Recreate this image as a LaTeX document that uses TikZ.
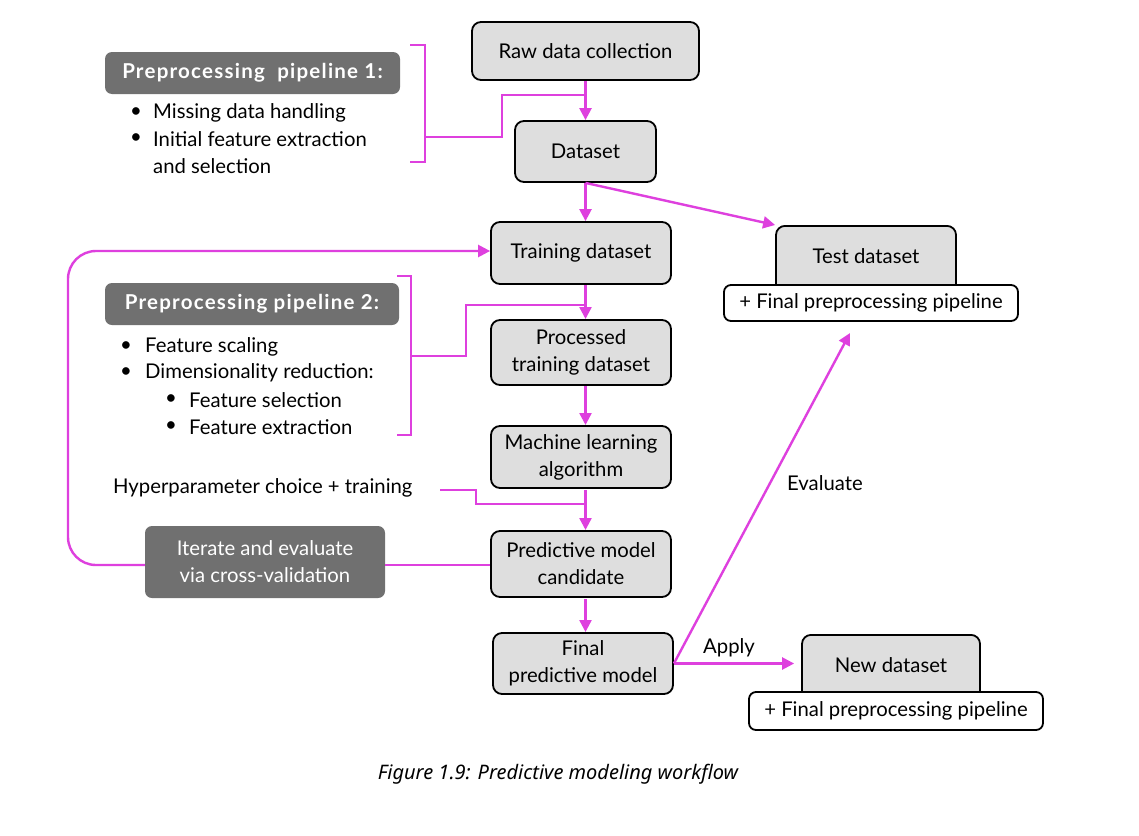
\documentclass[tikz,border=0pt]{standalone}
\usepackage{fontspec}
\setmainfont{Lato}
\newfontfamily\capfont{Noto Sans}
\usetikzlibrary{arrows.meta}
\definecolor{mag}{RGB}{222,64,222}
\definecolor{boxgray}{RGB}{222,222,222}
\definecolor{pipegray}{RGB}{112,112,112}
\newcommand{\ptitle}{\fontsize{20.5}{26}\selectfont\bfseries\addfontfeatures{LetterSpace=6}}
\begin{document}
\begin{tikzpicture}[x=1pt,y=-1pt,
 every node/.style={font=\fontsize{20.3}{27}\selectfont},
 procbox/.style={draw=black, line width=1.8pt, rounded corners=9pt, fill=boxgray, align=center, inner sep=0pt},
 pipebox/.style={fill=pipegray, rounded corners=7pt, text=white, align=center, inner sep=0pt},
 whitebox/.style={draw=black, line width=1.8pt, rounded corners=7pt, fill=white, inner sep=0pt},
 conn/.style={draw=mag, line width=2.4pt},
 arr/.style={conn, -{Triangle[length=12pt,width=12pt]}},
 txt/.style={anchor=west, inner sep=0pt},
]
\useasboundingbox[fill=white] (0,0) rectangle (1139,835);

% main column
\node[procbox, minimum width=227, minimum height=58] (raw) at (585.5,51) {Raw data collection};
\node[procbox, minimum width=141, minimum height=61] (dataset) at (585.5,151.5) {Dataset};
\node[procbox, minimum width=180, minimum height=62] (train) at (581,253) {Training dataset};
\node[procbox, minimum width=180, minimum height=65] (proc) at (581,352.5) {Processed\\training dataset};
\node[procbox, minimum width=180, minimum height=62] (ml) at (581,457) {Machine learning\\algorithm};
\node[procbox, minimum width=180, minimum height=66] (pmc) at (581,564) {Predictive model\\candidate};
\node[procbox, minimum width=180, minimum height=61] (final) at (583,663.5) {Final\\predictive model};

% test dataset
\node[procbox, minimum width=180, minimum height=72, anchor=north] (testg) at (866,225) {};
\node at (866,256) (testt) {Test dataset};
\node[whitebox, minimum width=294, minimum height=36] (testw) at (871,303) {+ Final preprocessing pipeline};

% new dataset
\node[procbox, minimum width=178, minimum height=70, anchor=north] (newg) at (891,634) {};
\node at (891,665) (newt) {New dataset};
\node[whitebox, minimum width=294, minimum height=38] (neww) at (896,711) {+ Final preprocessing pipeline};

% pipeline 1
\node[pipebox, minimum width=295, minimum height=42, font=\ptitle] (p1) at (252.5,73) {Preprocessing\ \ pipeline 1:};
\node[txt] (p1b1) at (130,113) {•};
\node[txt] (p1t1) at (153,113) {Missing data handling};
\node[txt] (p1b2) at (130,139) {•};
\node[txt] (p1t2) at (153,139) {Initial feature extraction};
\node[txt] (p1t3) at (153,166) {and selection};

% pipeline 2
\node[pipebox, minimum width=294, minimum height=42, font=\ptitle] (p2) at (252,304) {Preprocessing pipeline 2:};
\node[txt] (p2b1) at (120,347) {•};
\node[txt] (p2t1) at (145,347) {Feature scaling};
\node[txt] (p2b2) at (120,373) {•};
\node[txt] (p2t2) at (145,373) {Dimensionality reduction:};
\node[txt] (p2b3) at (165,400) {•};
\node[txt] (p2t3) at (189,400) {Feature selection};
\node[txt] (p2b4) at (165,427) {•};
\node[txt] (p2t4) at (189,427) {Feature extraction};

% hyperparameter / iterate
\node[txt] (hyp) at (113,488) {Hyperparameter choice + training};
\node[pipebox, minimum width=240, minimum height=72] (iter) at (265,562) {Iterate and evaluate\\via cross-validation};

% coordinates
\coordinate (j1) at (585.5,95);
\coordinate (j2) at (585.5,305);
\coordinate (j3) at (585.5,504);
\coordinate (evend) at (850,333);

% brackets
\draw[conn] (410,45) -- (425,45) -- (425,162) -- (410,162);
\draw[conn] (425,137) -- (502,137) -- (502,95) -- (j1);
\draw[conn] (397,276) -- (411,276) -- (411,435) -- (397,435);
\draw[conn] (411,356) -- (466,356) -- (466,305) -- (j2);
\draw[conn] (440,490) -- (476,490) -- (476,504) -- (j3);

% arrows
\draw[arr] (raw.south) -- (dataset.north);
\draw[arr] (dataset.south) -- (dataset.south |- train.north);
\draw[arr] (dataset.south) -- (testg.north west);
\draw[arr] (585.5,285) -- (585.5,319);
\draw[arr] (585.5,386) -- (585.5,425);
\draw[arr] (585.5,490) -- (585.5,530);
\draw[arr] (585.5,599) -- (585.5,632);
\draw[arr, rounded corners=28pt] (iter.west |- 0,565) -- (68,565) -- (68,251) -- (train.west |- 0,251);
\draw[conn] (iter.east |- 0,565) -- (pmc.west |- 0,565);
\draw[arr] (final.east) -- (evend);
\draw[arr, shorten >=7pt] (final.east) -- (final.east -| newg.west);

\node (apply) at (729,648) {Apply};
\node (eval) at (825,483) {Evaluate};

\node[font=\capfont\itshape\fontsize{20}{24}\selectfont] (cap) at (558,774) {Figure 1.9: Predictive modeling workflow};
\end{tikzpicture}
\end{document}
